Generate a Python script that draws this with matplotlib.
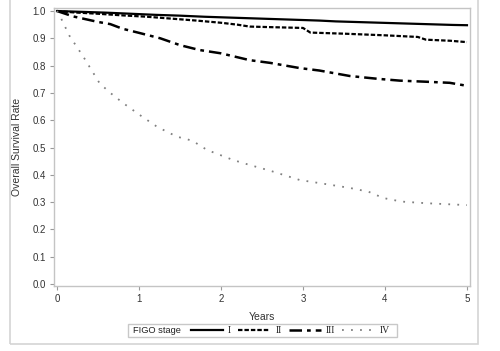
import matplotlib
matplotlib.use("Agg")
import matplotlib.pyplot as plt
from matplotlib.patches import Rectangle

plt.rcParams['font.family'] = ['Liberation Sans', 'DejaVu Sans']

# ---- data ----
stages = ["I", "II", "III", "IV"]

t_I = [0, 0.3, 0.6, 0.9, 1.2, 1.5, 1.8, 2.1, 2.4, 2.7, 3.0, 3.2, 3.4, 3.73, 4.06, 4.5, 4.83, 5.0]
s_I = [1.0, 0.997, 0.994, 0.99, 0.986, 0.983, 0.979, 0.976, 0.973, 0.970, 0.967, 0.965, 0.962, 0.959, 0.956, 0.952, 0.949, 0.948]

t_II = [0, 0.2, 0.5, 0.8, 1.1, 1.4, 1.7, 2.0, 2.2, 2.35, 2.6, 3.0, 3.09, 3.5, 4.0, 4.4, 4.5, 4.8, 5.0]
s_II = [1.0, 0.995, 0.99, 0.984, 0.979, 0.972, 0.965, 0.957, 0.950, 0.943, 0.941, 0.938, 0.921, 0.917, 0.911, 0.905, 0.895, 0.891, 0.886]

t_III = [0, 0.1, 0.2, 0.35, 0.5, 0.65, 0.8, 1.0, 1.26, 1.5, 1.74, 2.0, 2.35, 2.6, 2.96, 3.2, 3.57, 3.9, 4.18, 4.5, 4.79, 5.0]
s_III = [1.0, 0.99, 0.98, 0.97, 0.96, 0.952, 0.935, 0.92, 0.90, 0.875, 0.857, 0.845, 0.82, 0.81, 0.791, 0.782, 0.762, 0.752, 0.745, 0.741, 0.737, 0.726]

t_IV = [0, 0.04, 0.15, 0.32, 0.52, 0.65, 0.81, 1.01, 1.22, 1.46, 1.65, 1.83, 2.15, 2.35, 2.6, 2.96, 3.3, 3.57, 3.8, 3.98, 4.2, 4.5, 5.0]
s_IV = [1.0, 0.979, 0.91, 0.833, 0.735, 0.70, 0.662, 0.619, 0.576, 0.54, 0.525, 0.491, 0.454, 0.436, 0.415, 0.381, 0.365, 0.352, 0.338, 0.315, 0.302, 0.296, 0.289]

x_ticks = [0, 1, 2, 3, 4, 5]
y_ticks = [0.0, 0.1, 0.2, 0.3, 0.4, 0.5, 0.6, 0.7, 0.8, 0.9, 1.0]

W, H = 500, 351
fig = plt.figure(figsize=(W / 100, H / 100), dpi=100)

# outer frame
fig.patches.append(Rectangle((10 / W, 1 - 344 / H), (478 - 10) / W, 344 / H + 0.01,
                             transform=fig.transFigure, fill=False,
                             edgecolor='#d4d4d4', linewidth=1.2))

ax = fig.add_axes([54 / W, 1 - 286 / H, (470 - 54) / W, (286 - 7.5) / H])

styles = [
    dict(color='black', linestyle='-', linewidth=1.6),
    dict(color='black', linestyle=(0, (2, 0.9)), linewidth=1.6),
    dict(color='black', linestyle=(0, (5, 2, 1.5, 2)), linewidth=1.8),
    dict(color='#808080', linestyle=(0, (1, 4)), linewidth=1.3),
]
series = [(t_I, s_I), (t_II, s_II), (t_III, s_III), (t_IV, s_IV)]
handles = []
for (t, s), st, lab in zip(series, styles, stages):
    ln, = ax.plot(t, s, label=lab, **st)
    handles.append(ln)

ax.set_xlim(-0.037, 5.037)
ax.set_ylim(-0.0073, 1.0129)
ax.set_xticks(x_ticks)
ax.set_yticks(y_ticks)
ax.set_xticklabels([str(v) for v in x_ticks])
ax.set_yticklabels([f"{v:.1f}" for v in y_ticks])
for sp in ax.spines.values():
    sp.set_color('#c4c4c4')
    sp.set_linewidth(1.0)
ax.tick_params(axis='both', colors='#999999', labelcolor='#333333',
               labelsize=7, length=3, width=0.8, pad=3)

ax.set_xlabel("Years", fontsize=7.5, color='#333333')
ax.set_ylabel("Overall Survival Rate", fontsize=7.5, color='#333333')
ax.xaxis.set_label_coords(0.5, -0.093)
ax.yaxis.set_label_coords(-0.077, 0.5)

# legend box
fig.patches.append(Rectangle((128 / W, 1 - 337 / H), (397 - 128) / W, 13 / H,
                             transform=fig.transFigure, fill=False,
                             edgecolor='#c8c8c8', linewidth=1.0))
fig.text(133 / W, 1 - 330.5 / H, "FIGO stage", fontsize=6.7, color='#222222',
         ha='left', va='center')
leg = fig.legend(handles=handles, labels=stages, loc='center left',
                 bbox_to_anchor=(191 / W, 1 - 330.5 / H), ncol=4, frameon=False,
                 fontsize=7, handlelength=3.3, handletextpad=0.5, columnspacing=0.75,
                 borderpad=0, borderaxespad=0)
for txt in leg.get_texts():
    txt.set_fontfamily(['Liberation Serif', 'DejaVu Serif'])
    txt.set_color('#222222')

fig.savefig("out.png", dpi=100)
